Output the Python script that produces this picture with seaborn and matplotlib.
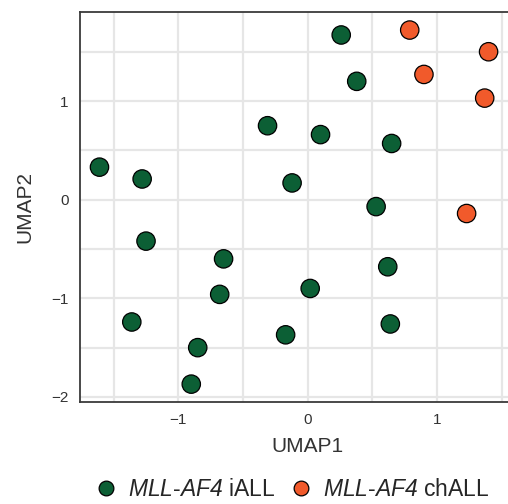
import matplotlib
matplotlib.use("Agg")
import matplotlib.pyplot as plt
from matplotlib.ticker import MultipleLocator
import pandas as pd
import seaborn as sns

# UMAP embedding of the samples
iall_x = [0.26, 0.38, -0.31, 0.10, 0.65, -1.61, -1.28, -0.12, 0.53, -1.25,
          -0.65, 0.62, -0.68, 0.02, -1.36, -0.17, 0.64, -0.85, -0.90]
iall_y = [1.67, 1.20, 0.75, 0.66, 0.57, 0.33, 0.21, 0.17, -0.07, -0.42,
          -0.60, -0.68, -0.96, -0.90, -1.24, -1.37, -1.26, -1.50, -1.87]
chall_x = [0.79, 1.40, 0.90, 1.37, 1.23]
chall_y = [1.72, 1.50, 1.27, 1.03, -0.14]

labels = [r"$\mathrm{MLL}$-$\mathrm{AF4}$ iALL", r"$\mathrm{MLL}$-$\mathrm{AF4}$ chALL"]
colors = ["#0c5f35", "#f15a2b"]

df = pd.DataFrame({
    "UMAP1": iall_x + chall_x,
    "UMAP2": iall_y + chall_y,
    "group": [labels[0]] * len(iall_x) + [labels[1]] * len(chall_x),
})

sns.set_theme(style="white")
plt.rcParams["font.family"] = ["Liberation Sans", "DejaVu Sans"]
# gene names are set in italics (math text only used for them)
plt.rcParams["mathtext.fontset"] = "custom"
plt.rcParams["mathtext.it"] = "Liberation Sans:italic"
plt.rcParams["mathtext.rm"] = "Liberation Sans:italic"

fig = plt.figure(figsize=(5.08, 5.04), dpi=100)
ax = fig.add_axes([0.1569, 0.203, 0.898, 0.7726])

sns.scatterplot(data=df, x="UMAP1", y="UMAP2", hue="group",
                palette=dict(zip(labels, colors)), hue_order=labels,
                s=175, edgecolor="black", linewidth=0.9, ax=ax, zorder=3)

ax.set_xlim(-1.763, 1.766)
ax.set_ylim(-2.048, 1.90)
ax.xaxis.set_major_locator(MultipleLocator(1))
ax.xaxis.set_minor_locator(MultipleLocator(0.5))
ax.yaxis.set_major_locator(MultipleLocator(1))
ax.yaxis.set_minor_locator(MultipleLocator(0.5))
ax.grid(True, which="both", color="#e6e6e6", linewidth=1.6, zorder=0)
ax.set_axisbelow(True)
ax.tick_params(which="both", length=0, labelsize=11, colors="#333333")
ax.tick_params(axis="x", pad=8)
ax.tick_params(axis="y", pad=8)

for side in ["left", "bottom", "top", "right"]:
    ax.spines[side].set_color("#3a3a3a")
    ax.spines[side].set_linewidth(1.3)

ax.set_xlabel("UMAP1", fontsize=15, color="#333333", labelpad=7)
ax.set_ylabel("UMAP2", fontsize=15, color="#333333", labelpad=12)

leg = ax.legend(loc="center", bbox_to_anchor=(0.566, 0.028),
                bbox_transform=fig.transFigure, ncol=2, frameon=False,
                fontsize=16.5, handlelength=1.8, handletextpad=0.05,
                columnspacing=0.25, markerscale=0.8)

fig.savefig("out.png", dpi=100)
